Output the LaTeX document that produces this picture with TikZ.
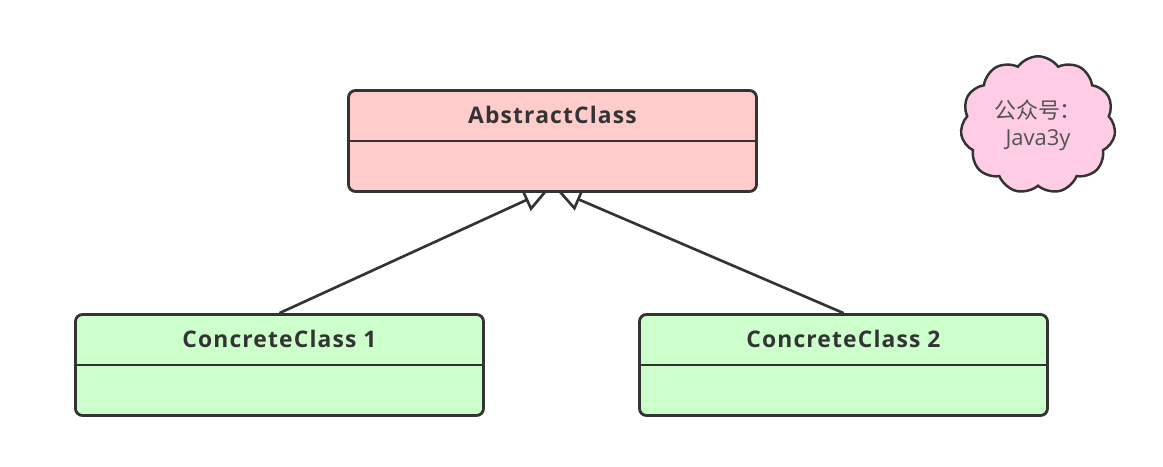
\documentclass[tikz,border=0pt]{standalone}
\usepackage{fontspec}
\setmainfont{Open Sans}
\newfontfamily\clsfont[LetterSpace=5]{Open Sans}
\newfontfamily\cjk{Noto Sans CJK SC}
\usetikzlibrary{arrows.meta,positioning,calc,shapes.symbols}
\pgfdeclarelayer{bg}
\pgfsetlayers{bg,main}
\definecolor{absfill}{HTML}{FFCCCC}
\definecolor{conffill}{HTML}{CCFFCC}
\definecolor{notefill}{HTML}{FFCCE6}
\definecolor{ink}{HTML}{333333}
\tikzset{
  cls/.style={draw=ink, line width=1.6pt, rounded corners=4pt,
    minimum width=8.16cm, minimum height=2.02cm},
  clsname/.style={anchor=center, yshift=-0.52cm, text=ink,
    font=\clsfont\bfseries\fontsize{13}{15}\selectfont},
  inherit/.style={draw=ink, line width=1.5pt,
    -{Triangle[open, length=0.5cm, width=0.46cm]}},
}

\begin{document}
\begin{tikzpicture}
    \useasboundingbox (0,0) rectangle (23.26,9.32);
    \node [cls, fill=absfill, label={[clsname]north:AbstractClass}] (abstract) at (11.05,6.5) {};
    \node [cls, fill=conffill, label={[clsname]north:ConcreteClass 1}] (concrete1) at (5.59,2.02) {};
    \node [cls, fill=conffill, label={[clsname]north:ConcreteClass 2}] (concrete2) at (16.87,2.02) {};
    \draw [ink, line width=1.6pt] (abstract.west) -- (abstract.east);
    \draw [ink, line width=1.6pt] (concrete1.west) -- (concrete1.east);
    \draw [ink, line width=1.6pt] (concrete2.west) -- (concrete2.east);

    \begin{pgfonlayer}{bg}    % arrow tips go under the box
        \draw [inherit] (concrete1.north) -- ([xshift=-0.08cm,yshift=0.06cm]abstract.south);
        \draw [inherit] (concrete2.north) -- ([xshift=0.08cm,yshift=0.06cm]abstract.south);
    \end{pgfonlayer}

    % note cloud
    \node [cloud, cloud puffs=11, cloud puff arc=110, draw=ink, line width=1.4pt,
      fill=notefill, minimum width=3.1cm, minimum height=2.35cm, inner sep=0pt,
      align=center, text=ink!85, font=\fontsize{12.5}{15.5}\selectfont] (note) at (20.76,6.82)
      {{\cjk 公众号：}\\Java3y};
\end{tikzpicture}
\end{document}
